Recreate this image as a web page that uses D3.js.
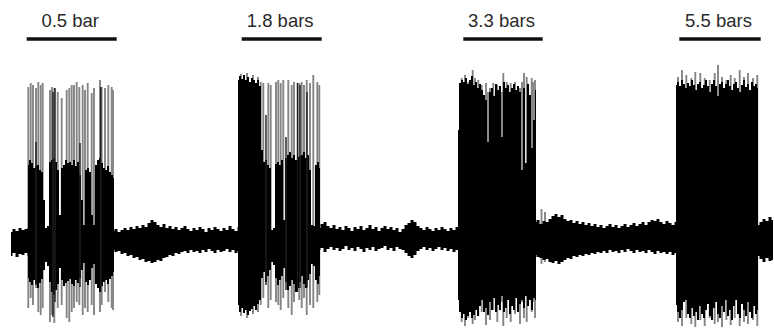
<!DOCTYPE html>
<html>
<head>
<meta charset="utf-8">
<script src="https://cdn.jsdelivr.net/npm/d3@7"></script>
<style>
  html, body { margin: 0; padding: 0; background: #fff; }
  svg { display: block; }
</style>
</head>
<body>
<svg id="chart" width="774" height="328"></svg>
<script>
// ---- Stimulus steps (time in s) ----
const stimLabels = ["0.5 bar", "1.8 bars", "3.3 bars", "5.5 bars"];
const stimStart  = [1.67, 23.17, 45.33, 66.93];
const stimEnd    = [10.67, 31.17, 53.27, 75.07];

// ---- Resting activity between bursts: envelope of the raw trace (µV) ----
const restStart = [0.1, 10.3, 30.9, 52.5, 74.8];
const restStep  = 0.3;
const restTopA = [10, 13, 11, 14, 12, 13, 14];
const restBotA = [-14, -11, -15, -12, -13, -11, -14];
const restTopB = [11,13,10,12,14,12,15,13,16,14,17,15,19,22,20,17,15,18,14,16,13,15,12,14,16,13,11,14,12,15,13,10,14,12,15,13,11,14,12,16,13,11,15,13];
const restBotB = [-8,-10,-9,-12,-11,-14,-13,-16,-15,-18,-17,-20,-19,-21,-20,-18,-19,-16,-15,-13,-14,-11,-12,-10,-9,-11,-8,-10,-9,-11,-8,-10,-7,-9,-11,-8,-10,-9,-7,-10,-8,-11,-9,-12];
const restTopC = [14,18,20,16,14,17,13,15,12,16,14,11,15,13,16,12,14,17,13,15,11,14,16,13,15,12,14,10,13,17,19,22,20,16,14,12,15,13,11,14,12,15,13,11,14,12,15,13];
const restBotC = [-8,-6,-10,-7,-5,-8,-6,-9,-7,-4,-8,-6,-9,-5,-7,-10,-6,-8,-5,-9,-7,-6,-4,-8,-6,-9,-5,-7,-8,-11,-14,-16,-13,-9,-7,-5,-8,-6,-9,-7,-5,-8,-6,-9,-7,-10,-8,-9];
const restTopD = [20,22,18,21,20,23,26,28,25,27,23,21,22,19,21,18,20,17,19,16,18,15,17,14,16,18,15,17,14,16,18,15,17,19,16,18,20,17,20,22,21,23,20,18,21,19,17,20];
const restBotD = [-13,-15,-16,-18,-17,-20,-21,-19,-22,-20,-18,-16,-17,-14,-15,-13,-14,-12,-13,-11,-12,-10,-11,-9,-11,-8,-10,-9,-11,-8,-10,-7,-9,-11,-8,-10,-9,-11,-8,-10,-12,-9,-11,-10,-12,-10,-13,-11];
const restTopE = [17, 20, 23, 21, 25, 22];
const restBotE = [-14, -17, -20, -16, -19, -18];

// ---- Evoked bursts: dense (black) envelope of the trace (µV) ----
const burstStart = [1.8, 22.8, 44.8, 66.6];
const burstStep  = 0.2;
const burstTop1 = [77,82,79,74,76,77,72,70,42,14,16,80,82,84,80,72,27,74,77,82,79,80,77,82,76,80,67,42,17,72,74,70,27,17,77,82,84,79,74,72,76,70,67,64];
const burstBot1 = [-36,-40,-43,-38,-42,-46,-41,-37,-28,-20,-24,-40,-50,-53,-48,-42,-26,-38,-44,-41,-39,-37,-42,-44,-38,-41,-36,-28,-21,-40,-43,-38,-26,-22,-42,-46,-50,-44,-40,-38,-42,-37,-34,-30];
const burstTop2 = [162,166,163,167,162,165,160,164,162,159,162,156,92,80,82,77,74,12,14,78,80,77,82,22,84,87,90,84,87,82,85,86,87,90,84,87,72,17,16,77,80,74];
const burstBot2 = [-63,-70,-66,-71,-68,-73,-69,-67,-64,-68,-62,-58,-36,-30,-40,-34,-28,-20,-23,-36,-43,-38,-34,-26,-40,-48,-44,-38,-42,-50,-46,-40,-34,-42,-46,-38,-32,-22,-24,-38,-42,-34];
const burstTop3 = [112,159,162,160,164,158,162,166,157,160,154,158,152,147,142,100,150,154,146,158,152,156,105,160,154,157,150,154,158,152,156,150,72,154,79,158,147,94,122,152];
const burstBot3 = [-58,-70,-76,-72,-78,-74,-70,-76,-73,-68,-74,-64,-58,-70,-66,-73,-60,-68,-56,-70,-63,-68,-54,-70,-66,-58,-72,-64,-68,-56,-70,-62,-58,-66,-54,-64,-58,-68,-56,-58];
const burstTop4 = [157,160,156,162,158,154,159,156,162,157,152,158,160,154,157,162,156,150,158,162,156,146,158,160,154,158,162,156,152,158,160,154,150,157,162,155,158,152,160,156,158,154];
const burstBot4 = [-63,-70,-76,-68,-60,-58,-72,-76,-66,-74,-70,-78,-64,-72,-76,-68,-62,-74,-78,-66,-60,-72,-76,-64,-70,-58,-74,-68,-78,-64,-58,-72,-76,-62,-68,-74,-60,-70,-76,-64,-72,-68];

// ---- Single large spikes: [time s, peak µV, trough µV] ----
const spikesFaint = [
  [1.83,155,-66],[2.07,159,-56],[2.30,157,-63],[2.60,154,-46],[2.83,160,-70],[3.07,157,-73],[3.27,159,-66],
  [4.00,152,-80],[4.20,155,-73],[4.43,154,-81],[4.77,150,-66],[5.17,144,-63],[5.67,152,-76],[5.93,154,-80],
  [6.17,157,-70],[6.40,157,-66],[6.67,160,-60],[6.93,155,-63],[7.27,157,-73],[7.50,152,-66],[7.77,159,-70],
  [8.17,149,-63],[8.40,154,-73],[9.00,162,-70],[9.17,155,-63],[9.50,154,-50],[9.83,157,-60],[10.17,155,-66],[10.30,152,-68],
  [23.1,168,-74],[23.7,169,-76],[24.3,167,-72],[24.8,165,-70],[25.07,160,-63],[25.33,159,-56],[25.83,159,-66],
  [26.07,157,-58],[26.60,160,-60],[26.83,162,-63],[27.07,159,-68],[27.33,162,-56],[27.83,162,-66],[28.17,157,-73],
  [28.40,160,-60],[28.93,159,-58],[29.17,160,-66],[29.40,157,-56],[29.67,162,-73],[30.00,159,-63],[30.33,167,-66],
  [30.73,160,-60],[30.93,157,-53],
  [45.17,164,-80],[45.50,167,-84],[45.83,160,-76],[46.27,172,-82],[46.50,164,-78],[46.83,162,-74],[47.17,157,-70],
  [47.60,159,-83],[47.80,150,-60],[48.00,154,-78],[48.33,159,-68],[48.73,157,-80],[49.20,150,-60],[49.33,169,-84],
  [49.67,160,-76],[50.07,159,-80],[50.50,160,-72],[51.00,154,-82],[51.20,160,-60],[51.40,169,-76],[51.67,165,-80],
  [52.17,164,-70],[52.30,160,-60],[52.50,162,-76],[53.15,33,-22],[53.50,30,-20],
  [66.80,165,-80],[67.20,172,-84],[67.63,167,-76],[68.13,164,-82],[68.53,170,-85],[69.03,169,-78],[69.47,164,-84],
  [69.97,162,-76],[70.47,169,-82],[70.80,177,-80],[71.20,165,-85],[71.63,162,-78],[72.07,167,-83],[72.47,164,-76],
  [72.97,172,-84],[73.40,165,-80],[73.80,169,-82],[74.30,164,-78],[74.73,167,-84]
];
const spikesDark = [
  [2.60,100,-43],[4.30,150,-75],[4.50,154,-60],[7.00,99,-45],[9.07,155,-48],
  [25.60,127,-43],[27.60,105,-48],[28.75,159,-50],[29.00,157,-46],[29.70,150,-45]
];

// ---- Drawing ----
const svg = d3.select("#chart");

const x = d3.scaleLinear().domain([0, 76.4]).range([10, 774]);
const y = d3.scaleLinear().domain([-86, 242]).range([328, 0]);

const defs = svg.append("defs");
defs.append("filter").attr("id", "soft")
  .attr("x", "-5%").attr("y", "-5%").attr("width", "110%").attr("height", "110%")
  .append("feGaussianBlur").attr("stdDeviation", 0.45);

const trace = svg.append("g").attr("filter", "url(#soft)");

// envelope segments -> rows of {t, hi, lo}
function segment(start, step, top, bot) {
  return top.map((v, i) => ({ t: start + i * step, hi: v, lo: bot[i] }));
}
const restSegments = [
  segment(restStart[0], restStep, restTopA, restBotA),
  segment(restStart[1], restStep, restTopB, restBotB),
  segment(restStart[2], restStep, restTopC, restBotC),
  segment(restStart[3], restStep, restTopD, restBotD),
  segment(restStart[4], restStep, restTopE, restBotE)
];
const burstSegments = [
  segment(burstStart[0], burstStep, burstTop1, burstBot1),
  segment(burstStart[1], burstStep, burstTop2, burstBot2),
  segment(burstStart[2], burstStep, burstTop3, burstBot3),
  segment(burstStart[3], burstStep, burstTop4, burstBot4)
];

const area = d3.area()
  .x(d => x(d.t))
  .y0(d => y(d.lo))
  .y1(d => y(d.hi))
  .curve(d3.curveStep);

// faint single sweeps (drawn first so the dense envelope covers their base)
trace.append("g")
  .selectAll("line").data(spikesFaint).join("line")
  .attr("x1", d => x(d[0])).attr("x2", d => x(d[0]))
  .attr("y1", d => y(d[1])).attr("y2", d => y(d[2]))
  .attr("stroke", "#858585").attr("stroke-width", 1.9);

trace.append("g")
  .selectAll("path").data(restSegments).join("path")
  .attr("d", area).attr("fill", "#000");

trace.append("g")
  .selectAll("path").data(burstSegments).join("path")
  .attr("d", area).attr("fill", "#000");

trace.append("g")
  .selectAll("line").data(spikesDark).join("line")
  .attr("x1", d => x(d[0])).attr("x2", d => x(d[0]))
  .attr("y1", d => y(d[1])).attr("y2", d => y(d[2]))
  .attr("stroke", "#1a1a1a").attr("stroke-width", 1.4);

// stimulus bars and labels
const stim = stimLabels.map((label, i) => ({ label, s: stimStart[i], e: stimEnd[i] }));
const stimG = svg.append("g");
stimG.selectAll("line").data(stim).join("line")
  .attr("x1", d => x(d.s)).attr("x2", d => x(d.e))
  .attr("y1", 39).attr("y2", 39)
  .attr("stroke", "#111").attr("stroke-width", 3.6);
stimG.selectAll("text").data(stim).join("text")
  .attr("x", d => (x(d.s) + x(d.e)) / 2 - 1.5)
  .attr("y", 27)
  .attr("text-anchor", "middle")
  .attr("font-family", "'Liberation Sans', Arial, Helvetica, sans-serif")
  .attr("font-size", 18.5)
  .attr("fill", "#2a2a2a")
  .text(d => d.label);
</script>
</body>
</html>
